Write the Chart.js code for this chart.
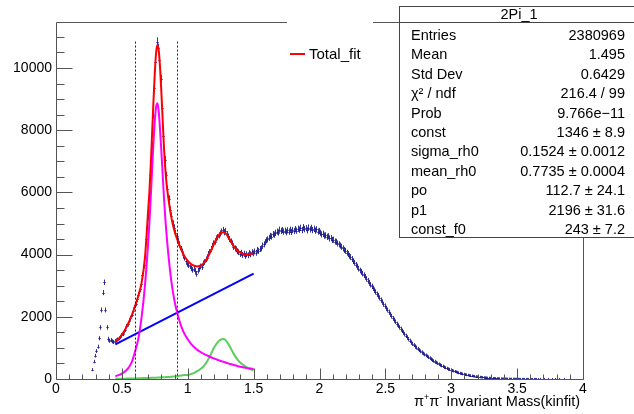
<!DOCTYPE html>
<html><head><meta charset="utf-8">
<script src="https://cdn.jsdelivr.net/npm/chart.js@4.4.0/dist/chart.umd.min.js"></script>
<style>
html,body{margin:0;padding:0;background:#fff;overflow:hidden;}
#wrap{position:relative;width:634px;height:414px;overflow:hidden;font-family:"Liberation Sans",Arial,sans-serif;color:#000;}
canvas{position:absolute;left:0;top:0;}
#stats{position:absolute;left:399px;top:6px;width:240px;height:230px;border:1px solid #444;background:#fff;font-size:14.5px;}
#stats .hdr{position:absolute;left:0;top:-3px;width:238px;height:20px;line-height:20px;text-align:center;}
#stats .sep{position:absolute;left:0;top:15px;width:240px;height:1px;background:#444;}
#stats .lab{position:absolute;left:11px;height:20px;line-height:20px;white-space:nowrap;}
#stats .val{position:absolute;left:0;width:225px;height:20px;line-height:20px;text-align:right;white-space:nowrap;}
#legline{position:absolute;left:290px;top:53px;width:15px;height:2px;background:#ff0000;}
#legtxt{position:absolute;left:309px;top:45px;height:18px;line-height:18px;font-size:15px;}
#xtitle{position:absolute;right:54px;top:392px;height:18px;line-height:18px;font-size:14.5px;white-space:nowrap;}
#xtitle sup{font-size:9px;vertical-align:6px;line-height:0;}
</style>
</head><body>
<div id="wrap">
<canvas id="c" width="634" height="414"></canvas>
<div id="legline"></div><div id="legtxt">Total_fit</div>
<div id="xtitle">π<sup>+</sup>π<sup>-</sup> Invariant Mass(kinfit)</div>
<div id="stats"></div>
</div>
<script>
// ---------- data ----------
const massStart = 0.275;   // centre of first filled bin
const massStep = 0.01;     // bin width
const counts = [
 300, 560, 750, 900, 1040, 1310, 1660, 2220, 2780, 3110,
 2220, 1660, 1290, 1230, 1250, 1210, 1190, 1220, 1240, 1270,
 1310, 1350, 1410, 1450, 1530, 1590, 1700, 1760, 1870, 1950,
 2070, 2190, 2300, 2420, 2560, 2700, 2880, 3050, 3330, 3650,
 3950, 4500, 5200, 5800, 6550, 7500, 8500, 9350, 10200, 10850,
 10650, 10250, 9650, 8700, 7800, 7050, 6550, 6100, 5800, 5450,
 5250, 5000, 4850, 4700, 4600, 4450, 4320, 4180, 4100, 3980,
 3900, 3780, 3700, 3660, 3640, 3560, 3510, 3540, 3470, 3380,
 3480, 3560, 3620, 3600, 3720, 3760, 3850, 3900, 4020, 4080,
 4180, 4280, 4360, 4420, 4520, 4560, 4620, 4680, 4740, 4790,
 4720, 4760, 4660, 4580, 4500, 4420, 4360, 4250, 4200, 4170,
 4110, 4080, 4020, 4060, 3990, 4030, 3960, 4010, 3980, 4050,
 4010, 4080, 4040, 4100, 4060, 4150, 4120, 4180, 4200, 4290,
 4330, 4400, 4460, 4490, 4540, 4600, 4580, 4660, 4640, 4700,
 4740, 4710, 4800, 4760, 4790, 4740, 4770, 4720, 4780, 4740,
 4800, 4730, 4790, 4760, 4820, 4770, 4830, 4800, 4860, 4790,
 4880, 4820, 4850, 4780, 4870, 4810, 4860, 4790, 4830, 4770,
 4810, 4740, 4760, 4700, 4650, 4670, 4610, 4620, 4570, 4590,
 4520, 4530, 4470, 4480, 4420, 4410, 4360, 4330, 4290, 4250,
 4200, 4150, 4120, 4060, 4020, 3960, 3920, 3860, 3790, 3740,
 3670, 3620, 3550, 3490, 3450, 3390, 3340, 3290, 3220, 3160,
 3100, 3030, 2980, 2920, 2860, 2800, 2730, 2680, 2610, 2540,
 2480, 2400, 2350, 2280, 2220, 2150, 2080, 2020, 1950, 1900,
 1840, 1770, 1720, 1660, 1610, 1550, 1500, 1440, 1390, 1340,
 1280, 1230, 1180, 1130, 1090, 1050, 1010, 970, 930, 890,
 860, 820, 790, 760, 730, 700, 670, 640, 610, 580,
 560, 530, 505, 480, 455, 430, 410, 385, 365, 345,
 325, 305, 290, 272, 258, 242, 228, 215, 200, 188,
 176, 165, 154, 144, 134, 125, 116, 108, 100, 93,
 86, 80, 74, 68, 63, 58, 53, 49, 45, 41,
 38, 35, 32, 29, 26, 24, 22, 20, 18, 16,
 15, 13, 12, 11, 10, 9, 8, 7, 7, 6,
 5, 5, 4, 4, 3, 3, 3, 2, 2, 2,
 2, 1, 1, 1, 1, 1, 1, 1, 1, 0,
 1, 0, 1, 1, 0, 0, 1, 0, 0, 1,
 0, 1, 0, 0, 1, 0, 0, 0, 1, 0
];

const curveMass = [0.45,0.475,0.5,0.525,0.55,0.575,0.6,0.625,0.65,0.675,0.7,0.71,0.72,0.73,0.74,0.75,0.76,0.77,0.78,0.79,0.8,0.81,0.82,0.83,0.84,0.86,0.88,0.9,0.925,0.95,0.975,1.0,1.025,1.05,1.075,1.1,1.125,1.15,1.175,1.2,1.225,1.25,1.275,1.3,1.325,1.35,1.375,1.4,1.425,1.45,1.475,1.5];
const totalFit = [1200,1290,1420,1590,1800,2050,2340,2680,3100,3900,5450,6100,6950,7950,8950,9850,10500,10740,10550,10000,9200,8300,7400,6750,6250,5600,5100,4750,4430,4160,3950,3800,3700,3640,3620,3650,3740,3900,4110,4350,4560,4690,4720,4620,4440,4270,4140,4060,4020,4010,4020,4040];
const rhoFit = [90,125,175,250,360,540,880,1300,2000,3000,4400,5100,5900,6800,7600,8300,8750,8870,8600,8000,7300,6550,5800,5150,4600,3700,3000,2500,2050,1700,1450,1280,1130,1020,930,860,800,750,700,660,620,580,550,510,480,450,420,395,370,350,335,320];
const f0Fit = [5,8,10,12,14,17,20,23,26,30,34,35,37,38,40,42,44,46,48,50,52,54,57,60,63,68,75,82,95,110,128,130,160,200,260,330,430,590,790,1010,1170,1270,1290,1180,1000,800,640,520,440,370,320,275];
const bkgMass = [0.45, 1.5];
const bkgFit = [1110, 3390];

const windowEdges = [0.6, 0.92];
const windowTop = 10850;

const xMajor = [0,0.5,1,1.5,2,2.5,3,3.5,4];
const xTickLabels = ['0','0.5','1','1.5','2','2.5','3','3.5','4'];
const yMajor = [0,2000,4000,6000,8000,10000];
const yTickLabels = ['0','2000','4000','6000','8000','10000'];
const xMinorStep = 0.1, yMinorStep = 500;
const xRange = [0, 4], yRange = [0, 11480];

const statLabels = ['Entries','Mean','Std Dev','χ² / ndf','Prob','const','sigma_rh0','mean_rh0','po','p1','const_f0'];
const statValues = ['2380969','1.495','0.6429','216.4 / 99','9.766e−11','1346 ± 8.9','0.1524 ± 0.0012','0.7735 ± 0.0004','112.7 ± 24.1','2196 ± 31.6','243 ± 7.2'];

// ---------- stats box ----------
(function(){
  const box = document.getElementById('stats');
  let h = '<div class="hdr">2Pi_1</div><div class="sep"></div>';
  statLabels.forEach((l,i)=>{
    const top = 35 + i*19.4 - 7 - 10;
    h += '<div class="lab" style="top:'+top+'px">'+l+'</div><div class="val" style="top:'+top+'px">'+statValues[i]+'</div>';
  });
  box.innerHTML = h;
})();

const pts = (xs, ys) => xs.map((x,i)=>({x:x, y:ys[i]}));
const histPts = counts.map((c,i)=>({x: massStart + i*massStep, y: c}));

const FONT = "'Liberation Sans', Arial, sans-serif";
const AXC = '#555';

const rootPlugin = {
  id: 'rootPlugin',
  beforeDatasetsDraw(chart){
    const {ctx, chartArea:A, scales:{x, y}} = chart;
    ctx.save();
    ctx.beginPath(); ctx.rect(A.left, A.top, A.right-A.left, A.bottom-A.top); ctx.clip();
    ctx.strokeStyle = 'rgba(30,30,140,0.9)';
    ctx.lineWidth = 1;
    ctx.beginPath();
    histPts.forEach(p=>{
      if (p.y <= 0) return;
      const e = Math.sqrt(p.y);
      const px = Math.round(x.getPixelForValue(p.x)) + 0.5;
      const py = Math.round(y.getPixelForValue(p.y)) + 0.5;
      const t = y.getPixelForValue(p.y + e) - 1, b = y.getPixelForValue(p.y - e) + 1;
      ctx.moveTo(px, t); ctx.lineTo(px, b);
      ctx.moveTo(px - 1.2, py); ctx.lineTo(px + 1.2, py);
    });
    ctx.stroke();
    ctx.restore();
  },
  afterDraw(chart){
    const {ctx, chartArea:A, scales:{x, y}} = chart;
    ctx.save();
    // dashed window lines
    ctx.strokeStyle = '#222'; ctx.lineWidth = 1; ctx.setLineDash([2,2]);
    windowEdges.forEach(m=>{
      const px = Math.round(x.getPixelForValue(m)) + 0.5;
      ctx.beginPath(); ctx.moveTo(px, y.getPixelForValue(windowTop)); ctx.lineTo(px, y.getPixelForValue(0)); ctx.stroke();
    });
    ctx.setLineDash([]);
    // frame
    ctx.strokeStyle = AXC; ctx.lineWidth = 1;
    const L = Math.round(A.left)+0.5, R = Math.round(A.right)+0.5, T = Math.round(A.top)+0.5, B = Math.round(A.bottom)+0.5;
    ctx.beginPath();
    ctx.moveTo(L,T); ctx.lineTo(R,T); ctx.lineTo(R,B); ctx.lineTo(L,B); ctx.closePath();
    ctx.stroke();
    // ticks
    ctx.beginPath();
    for (let v = yRange[0]; v <= yRange[1]; v += yMinorStep){
      const py = Math.round(y.getPixelForValue(v)) + 0.5;
      const len = yMajor.includes(v) ? 16 : 8;
      ctx.moveTo(L, py); ctx.lineTo(L+len, py);
    }
    for (let k = 0; k <= 40; k++){
      const v = xRange[0] + k*xMinorStep;
      const px = Math.round(x.getPixelForValue(v)) + 0.5;
      const len = (k % 5 === 0) ? 11 : 5;
      ctx.moveTo(px, B); ctx.lineTo(px, B-len);
    }
    ctx.stroke();
    // title pave gap
    ctx.fillStyle = '#fff';
    ctx.fillRect(287, 0, 86, 25);
    ctx.restore();
  }
};

const lineDs = (label, data, color, order) => ({
  label, data, borderColor: color, backgroundColor: color, borderWidth: 2,
  pointRadius: 0, showLine: true, cubicInterpolationMode: 'monotone', fill: false, order
});

new Chart(document.getElementById('c'), {
  type: 'line',
  data: {
    datasets: [
      lineDs('Total_fit', pts(curveMass, totalFit), '#ff0000', 0),
      lineDs('rho', pts(curveMass, rhoFit), '#ff00ff', 1),
      lineDs('f0', pts(curveMass, f0Fit), '#5ccd5c', 2),
      lineDs('bkg', pts(bkgMass, bkgFit), '#0000ff', 3),
      { label: '2Pi_1', data: histPts, showLine: false, pointRadius: 0, borderWidth: 0, order: 4 }
    ]
  },
  options: {
    responsive: false, animation: false, events: [],
    devicePixelRatio: 1,
    layout: { padding: { top: 22, right: 51, left: 0, bottom: 0 } },
    plugins: { legend: { display: false }, tooltip: { enabled: false }, title: { display: false } },
    scales: {
      x: {
        type: 'linear', min: xRange[0], max: xRange[1],
        afterBuildTicks: s => { s.ticks = xMajor.map(v => ({ value: v })); },
        afterFit: s => { s.height = 35; },
        ticks: { callback: (v, i) => xTickLabels[i], font: { family: FONT, size: 14 }, color: '#000', padding: 2, maxRotation: 0, autoSkip: false },
        grid: { display: false, drawTicks: false }, border: { display: false }
      },
      y: {
        type: 'linear', min: yRange[0], max: yRange[1],
        afterBuildTicks: s => { s.ticks = yMajor.map(v => ({ value: v })); },
        afterFit: s => { s.width = 56; },
        ticks: { callback: (v, i) => yTickLabels[i], font: { family: FONT, size: 14 }, color: '#000', padding: 4, autoSkip: false },
        grid: { display: false, drawTicks: false }, border: { display: false }
      }
    }
  },
  plugins: [rootPlugin]
});
</script>
</body></html>
